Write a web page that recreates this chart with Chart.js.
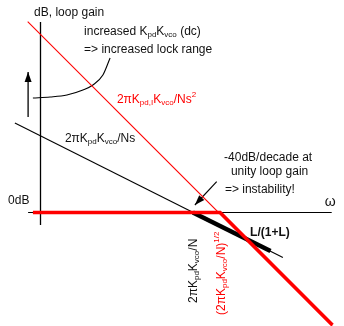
<!DOCTYPE html>
<html>
<head>
<meta charset="utf-8">
<script src="https://cdn.jsdelivr.net/npm/chart.js@4.4.1/dist/chart.umd.min.js"></script>
<style>
  html, body { margin: 0; padding: 0; background: #fff; }
  #wrap { width: 344px; height: 326px; position: relative; }
</style>
</head>
<body>
<div id="wrap"><canvas id="bode"></canvas></div>
<script>
// x = log10(omega) in decades, y = gain in dB

// 2piKpd,I Kvco/Ns^2 asymptote, -40 dB/decade
const typeTwoDecades = [-0.32, 7.4]
const typeTwoDb = [190.8, -118]

// 2piKpd Kvco/Ns asymptote, -20 dB/decade
const typeOneDecades = [-0.64, 6.06]
const typeOneDb = [89.5, -45]

// closed loop L/(1+L), type one
const closedOneDecades = [3.81, 5.75]
const closedOneDb = [0, -38.5]

// closed loop, type two (flat then -40 dB/decade)
const closedTwoDecades = [-0.19, 4.49, 7.3]
const closedTwoDb = [0, 0, -112.5]

// axes
const freqAxisDecades = [-0.31, 7.28]
const freqAxisDb = [0, 0]
const gainAxisDecades = [0, 0]
const gainAxisDb = [190.5, -12.5]

// "increased dc gain" sweep
const sweepDecades = [-0.19, 0.24, 0.66, 1.06, 1.31, 1.56, 1.74]
const sweepDb = [114.5, 115.5, 117.5, 122.5, 127.5, 137.5, 154.5]
const liftArrowDecades = [-0.31, -0.31]
const liftArrowDb = [95.5, 140.5]

// pointer to the unity gain crossing
const pointerDecades = [4.405, 3.86]
const pointerDb = [30.8, 7.5]

const RED = '#ff0000'
const INK = '#111'
const FONT = "'Liberation Sans', Arial, sans-serif"

const pts = (xs, ys) => xs.map((x, i) => ({ x, y: ys[i] }))

// text labels: parts are [text, 'sub'|'sup'|undefined]
const notes = [
    { d: -0.16, db: 199.5, parts: [['dB, loop gain']] },
    { d: 1.09, db: 180.5, parts: [['increased K'], ['pd', 'sub'], ['K'], ['vco', 'sub'], [' (dc)']] },
    { d: 1.09, db: 162.5, parts: [['=> increased lock range']] },
    { d: 1.91, db: 112.5, color: RED, parts: [['2\u03c0K'], ['pd,I', 'sub'], ['K'], ['vco', 'sub'], ['/Ns'], ['2', 'sup']] },
    { d: 0.61, db: 73.5, parts: [['2\u03c0K'], ['pd', 'sub'], ['K'], ['vco', 'sub'], ['/Ns']] },
    { d: -0.81, db: 11.5, parts: [['0dB']] },
    { d: 4.59, db: 54.5, parts: [['-40dB/decade at']] },
    { d: 4.76, db: 40.5, parts: [['unity loop gain']] },
    { d: 4.61, db: 22.5, parts: [['=> instability!']] },
    { d: 7.24, db: 10.5, size: 14, align: 'center', parts: [['\u03c9']] },
    { d: 5.24, db: -20.5, bold: true, parts: [['L/(1+L)']] },
    { d: 3.84, db: -90.5, rotate: true, parts: [['2\u03c0K'], ['pd', 'sub'], ['K'], ['vco', 'sub'], ['/N']] },
    { d: 4.54, db: -102.5, rotate: true, color: RED, parts: [['(2\u03c0K'], ['pd', 'sub'], ['K'], ['vco', 'sub'], ['/N)'], ['1/2', 'sup']] }
]

const drawParts = (ctx, parts, size, bold) => {
    let x = 0
    parts.forEach(([t, kind]) => {
        const s = kind ? Math.round(size * 0.68) : size
        ctx.font = (bold ? 'bold ' : '') + s + 'px ' + FONT
        const dy = kind === 'sub' ? 3 : kind === 'sup' ? -5 : 0
        ctx.fillText(t, x, dy)
        x += ctx.measureText(t).width
    })
    return x
}

const partsWidth = (ctx, parts, size, bold) => {
    let w = 0
    parts.forEach(([t, kind]) => {
        const s = kind ? Math.round(size * 0.68) : size
        ctx.font = (bold ? 'bold ' : '') + s + 'px ' + FONT
        w += ctx.measureText(t).width
    })
    return w
}

const notesPlugin = {
    id: 'notes',
    afterDatasetsDraw(chart) {
        const { ctx, scales: { x, y } } = chart

        // arrow heads
        chart.data.datasets.forEach((ds, i) => {
            if (!ds.arrowHead) return
            const p = chart.getDatasetMeta(i).data
            const a = p[p.length - 2], b = p[p.length - 1]
            const ang = Math.atan2(b.y - a.y, b.x - a.x)
            ctx.save()
            ctx.translate(b.x, b.y)
            ctx.rotate(ang)
            ctx.fillStyle = ds.borderColor
            ctx.beginPath()
            ctx.moveTo(0, 0)
            ctx.lineTo(-10, -3.5)
            ctx.lineTo(-10, 3.5)
            ctx.closePath()
            ctx.fill()
            ctx.restore()
        })

        notes.forEach(n => {
            const size = n.size || 12
            ctx.save()
            ctx.fillStyle = n.color || INK
            ctx.textBaseline = 'middle'
            ctx.textAlign = 'left'
            ctx.translate(x.getPixelForValue(n.d), y.getPixelForValue(n.db))
            if (n.rotate) ctx.rotate(-Math.PI / 2)
            if (n.align === 'center') ctx.translate(-partsWidth(ctx, n.parts, size, n.bold) / 2, 0)
            drawParts(ctx, n.parts, size, n.bold)
            ctx.restore()
        })
    }
}

const line = (xs, ys, color, width, extra) => Object.assign({
    data: pts(xs, ys),
    showLine: true,
    borderColor: color,
    backgroundColor: color,
    borderWidth: width,
    pointRadius: 0,
    fill: false
}, extra || {})

const data = {
    datasets: [
        line(closedTwoDecades, closedTwoDb, RED, 3.5, { order: 1, borderJoinStyle: 'miter' }),
        line(closedOneDecades, closedOneDb, '#000', 4.5, { order: 2 }),
        line(typeTwoDecades, typeTwoDb, RED, 1.1, { order: 3 }),
        line(typeOneDecades, typeOneDb, '#000', 1.1, { order: 4 }),
        line(freqAxisDecades, freqAxisDb, '#000', 1.1, { order: 5 }),
        line(gainAxisDecades, gainAxisDb, '#000', 1.3, { order: 6 }),
        line(sweepDecades, sweepDb, '#000', 1.1, { order: 7, cubicInterpolationMode: 'monotone' }),
        line(liftArrowDecades, liftArrowDb, '#000', 1.3, { order: 8, arrowHead: true }),
        line(pointerDecades, pointerDb, '#000', 1.1, { order: 9, arrowHead: true })
    ]
}

const options = {
    responsive: true,
    maintainAspectRatio: false,
    animation: false,
    layout: { padding: 0 },
    plugins: {
        legend: { display: false },
        tooltip: { enabled: false }
    },
    scales: {
        x: { type: 'linear', display: false, min: -1.0125, max: 7.5875 },
        y: { type: 'linear', display: false, min: -113.5, max: 212.5 }
    }
}

new Chart('bode', { type: 'scatter', data, options, plugins: [notesPlugin] })
</script>
</body>
</html>
